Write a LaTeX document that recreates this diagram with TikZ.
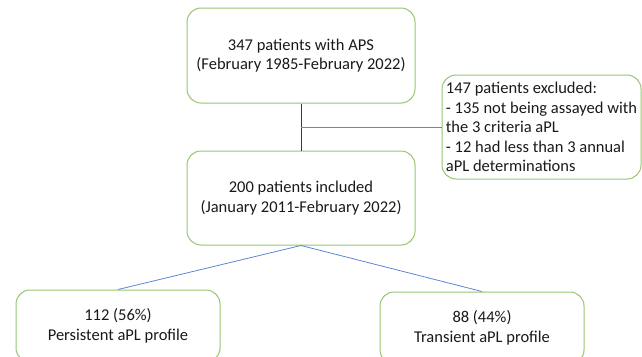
\documentclass[tikz,border=0pt]{standalone}
\usepackage{fontspec}
\setmainfont{Carlito}
\usepackage{xcolor}
\usepackage{tikz}
\usetikzlibrary{positioning}
\definecolor{boxgreen}{RGB}{150,196,112}
\definecolor{lineblue}{RGB}{92,134,214}
\definecolor{stemgray}{RGB}{60,60,60}

\begin{document}
\begin{tikzpicture}[x=1pt, y=1pt,
    flowbox/.style={draw=boxgreen, line width=1pt, rounded corners=14pt, align=center, inner sep=0pt,
        font=\fontsize{16.5}{19.5}\selectfont, text=black!90}]
            \useasboundingbox (0,0) rectangle (642,-356);
            \clip (0,0) rectangle (642,-356);

            \node (aps) [flowbox, minimum width=228, minimum height=95] at (301,-55.5) {347 patients with APS\\(February 1985-February 2022)};
            \node (incl) [flowbox, minimum width=228, minimum height=94, below=47 of aps] {200 patients included\\(January 2011-February 2022)};
            \node (excl) [flowbox, align=left, minimum width=199, minimum height=104] at (541.5,-127) {147 patients excluded:\\- 135 not being assayed with\\the 3 criteria aPL\\- 12 had less than 3 annual\\aPL determinations};

            \node (persist) [flowbox, minimum width=204, minimum height=72] at (118,-326) {112 (56\%)\\Persistent aPL profile};
            \node (trans) [flowbox, minimum width=204, minimum height=72] at (482,-328) {88 (44\%)\\Transient aPL profile};

                \coordinate (branch) at (aps.south |- excl.west);
                \draw[stemgray, line width=0.8pt] (aps.south) -- (incl.north);
                \draw[lineblue, line width=0.8pt] (branch) -- (excl.west);
                \draw[lineblue, line width=0.8pt] (incl.south) -- (persist.north);
                \draw[lineblue, line width=0.8pt] (incl.south) -- (trans.north);
            \end{tikzpicture}
\end{document}
